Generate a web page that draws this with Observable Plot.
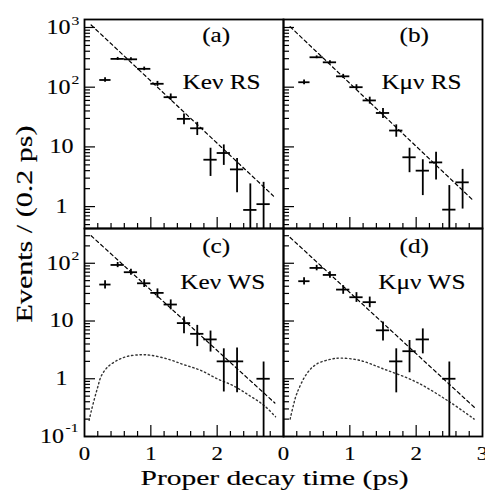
<!DOCTYPE html>
<html><head><meta charset="utf-8">
<script src="https://cdn.jsdelivr.net/npm/d3@7"></script>
<script src="https://cdn.jsdelivr.net/npm/@observablehq/plot@0.6"></script>
<style>
body{margin:0;background:#fff;}
#chart{position:relative;width:485px;height:493px;overflow:hidden;}
#chart svg{position:absolute;left:0;top:0;}
#chart svg, #chart svg text{font-family:"Liberation Serif","Times New Roman",Times,serif !important;}
</style></head><body><div id="chart"></div>
<script>
// ---- data ----
const xTitle = "Proper decay time (ps)";
const yTitle = "Events / (0.2 ps)";
const panelTags = ["(a)", "(b)", "(c)", "(d)"];
const panelNames = ["Ke\u03bd RS", "K\u03bc\u03bd RS", "Ke\u03bd WS", "K\u03bc\u03bd WS"];

// bin centres (ps); first bin starts at 0.23
const aT = [0.31,0.5,0.7,0.9,1.1,1.3,1.5,1.7,1.9,2.1,2.3,2.5,2.7];
const aV = [132,298,293,203,114,68,29.5,20.5,6.1,7.9,4.2,0.88,1.1];
const aLo = [121,281,276,189,103,60,23.5,15.5,3.2,4.9,1.7,0.3,0.3];
const aHi = [144,315,310,217,125,77,35.5,25.8,9.5,10.8,6.4,2.4,2.55];

const bT = [0.31,0.5,0.7,0.9,1.1,1.3,1.5,1.7,1.9,2.1,2.3,2.5,2.7];
const bV = [121,317,261,152,100,60,37,18.8,6.7,4.0,5.5,0.89,2.55];
const bLo = [110,300,245,140,90,52,30,14.5,3.7,1.53,2.8,0.3,0.91];
const bHi = [132,334,277,164,110,68,44,23.4,9.5,6.1,8.1,2.25,4.2];

const cT = [0.31,0.5,0.7,0.9,1.1,1.3,1.5,1.7,1.9,2.1,2.3,2.7];
const cV = [42.8,93.5,70,45,30.7,19.3,9.2,6.0,4.8,2.0,2.0,1.0];
const cLo = [36,84,62,38,25,15.6,6.0,3.6,2.9,0.59,0.57,0.05];
const cHi = [50,103,79,52,36,23.2,11.7,8.4,6.7,3.3,3.4,1.95];

const dT = [0.31,0.5,0.7,0.9,1.1,1.3,1.5,1.7,1.9,2.1,2.5];
const dV = [48.9,83,62.8,35,25.8,21.2,6.9,2.0,3.0,4.8,1.0];
const dLo = [42,74,55,29,21,17,4.5,0.57,1.27,2.7,0.05];
const dHi = [56,92,71,41,31,26,9.6,3.3,4.6,7.3,1.95];

// dashed fit lines
const aFitT = [0.1, 2.85], aFitV = [1100, 1.5];
const bFitT = [0.1, 2.85], bFitV = [1030, 1.3];
const cFitT = [0.1, 2.87], cFitV = [300, 0.38];
const dFitT = [0.1, 2.89], dFitV = [280, 0.31];

// dotted background curves (WS panels)
const cBkgT = [0.07,0.1,0.15,0.2,0.25,0.35,0.5,0.65,0.85,1.0,1.25,1.5,1.75,2.0,2.25,2.5,2.7,2.88];
const cBkgV = [0.19,0.27,0.45,0.72,1.1,1.6,2.1,2.45,2.6,2.55,2.2,1.75,1.4,1.0,0.75,0.5,0.35,0.22];
const dBkgT = [0.1,0.15,0.2,0.35,0.5,0.7,0.85,1.15,1.5,2.0,2.5,2.875];
const dBkgV = [0.2,0.35,0.55,1.22,1.8,2.16,2.28,2.08,1.49,0.88,0.4,0.2];

// axis ticks / labels
const xMinorTicks = [0.2,0.4,0.6,0.8,1.2,1.4,1.6,1.8,2.2,2.4,2.6,2.8];
const xMajorTicks = [1,2];
const xLabelsLeft = [0,1,2];
const xLabelsRight = [0,1,2,3];
const yTopMajor = [1,10,100,1000];
const yBotMajor = [0.1,1,10,100];
const yTopLabels = [{v:1000,base:"10",exp:"3"},{v:100,base:"10",exp:"2"},{v:10,base:"10",exp:""},{v:1,base:"1",exp:""}];
const yBotLabels = [{v:100,base:"10",exp:"2"},{v:10,base:"10",exp:""},{v:1,base:"1",exp:""},{v:0.1,base:"10",exp:"-1"}];
const topDomain = [0.43, 1360];
const botDomain = [0.1, 400];

// ---- build ----
const W = 485, H = 493;
const FONT = "Liberation Serif";
function pts(T, V, Lo, Hi) {
  return T.map((t, i) => ({t, v: V[i], lo: Lo[i], hi: Hi[i], t0: i === 0 ? 0.23 : t - 0.1, t1: i === 0 ? 0.4 : t + 0.1}));
}
function line(T, V) { return T.map((t, i) => ({t, v: V[i]})); }
function minors(domain) {
  const out = [];
  for (const dec of [0.1, 1, 10, 100, 1000]) for (let m = 2; m <= 9; m++) {
    const v = m * dec;
    if (v > domain[0] * 1.001 && v < domain[1] * 0.99) out.push(v);
  }
  return out;
}

function panel(o) {
  const innerW = W - o.left - o.right, innerH = H - o.top - o.bottom;
  const txt = {fill: "#000", fontFamily: FONT, stroke: "#000", strokeWidth: 0.15};
  const marks = [
    Plot.ruleX(xMinorTicks, {x: d => d, insetTop: innerH - 5, stroke: "#000", strokeWidth: 1.2}),
    Plot.ruleX(xMajorTicks, {x: d => d, insetTop: innerH - 11, stroke: "#000", strokeWidth: 1.2}),
    Plot.ruleY(minors(o.domain), {y: d => d, insetRight: innerW - 6, stroke: "#000", strokeWidth: 1.2}),
    Plot.ruleY(o.major, {y: d => d, insetRight: innerW - 11, stroke: "#000", strokeWidth: 1.2})
  ];
  if (o.bkg) marks.push(Plot.line(o.bkg, {x: "t", y: "v", curve: "catmull-rom", stroke: "#333", strokeWidth: 1.4, strokeDasharray: "1.4,2.8", clip: true}));
  marks.push(
    Plot.line(o.fit, {x: "t", y: "v", stroke: "#000", strokeWidth: 1.2, strokeDasharray: "3.5,3", clip: true}),
    Plot.ruleX(o.pts, {x: "t", y1: "lo", y2: "hi", stroke: "#000", strokeWidth: 1.8, clip: true}),
    Plot.ruleY(o.pts, {y: "v", x1: "t0", x2: "t1", stroke: "#000", strokeWidth: 1.8, clip: true}),
    Plot.frame({stroke: "#000", strokeWidth: 1.8}),
    Plot.text([o.tag], {...txt, frameAnchor: "top-left", dx: o.tagDx, dy: o.tagDy, textAnchor: "middle", lineAnchor: "middle", fontSize: 21}),
    Plot.text([o.name], {...txt, frameAnchor: "top-left", dx: o.nameDx, dy: o.nameDy, textAnchor: "middle", lineAnchor: "bottom", fontSize: 21})
  );
  if (o.yLabels) {
    const plain = o.yLabels.filter(d => !d.exp), sup = o.yLabels.filter(d => d.exp);
    marks.push(Plot.text(plain, {...txt, y: "v", text: "base", frameAnchor: "left", dx: -23, textAnchor: "middle", lineAnchor: "middle", fontSize: 20}));
    for (const d of sup) {
      const long = d.exp.length > 1;
      marks.push(
        Plot.text([d], {...txt, y: "v", text: "base", frameAnchor: "left", dx: long ? -20.5 : -14, textAnchor: "end", lineAnchor: "middle", fontSize: 20}),
        Plot.text([d], {...txt, y: "v", text: "exp", frameAnchor: "left", dx: long ? -19 : -13, dy: long ? -9 : -7, textAnchor: "start", lineAnchor: "middle", fontSize: 13, strokeWidth: 0.1})
      );
    }
  }
  if (o.xLabels) {
    marks.push(Plot.text(o.xLabels, {...txt, x: d => d, text: d => String(d), frameAnchor: "bottom", dy: 17.5, textAnchor: "middle", lineAnchor: "middle", fontSize: 19}));
  }
  if (o.titles) {
    marks.push(
      Plot.text([yTitle], {...txt, frameAnchor: "left", dx: -53, dy: -108.5, rotate: -90, textAnchor: "middle", lineAnchor: "bottom", fontSize: 23}),
      Plot.text([xTitle], {...txt, frameAnchor: "bottom", dx: 90.5, dy: 48, textAnchor: "middle", lineAnchor: "bottom", fontSize: 22})
    );
  }
  return Plot.plot({
    width: W, height: H,
    marginLeft: o.left, marginRight: o.right, marginTop: o.top, marginBottom: o.bottom,
    style: {background: "transparent", overflow: "visible"},
    x: {domain: [0, 3], axis: null},
    y: {type: "log", domain: o.domain, axis: null},
    marks
  });
}

const chart = document.getElementById("chart");
const configs = [
  {left: 84, right: 202, top: 19, bottom: 265, domain: topDomain, major: yTopMajor, pts: pts(aT, aV, aLo, aHi), fit: line(aFitT, aFitV),
   tag: panelTags[0], name: panelNames[0], tagDx: 131.7, tagDy: 16, nameDx: 137, nameDy: 69.3, yLabels: yTopLabels},
  {left: 283, right: 3, top: 19, bottom: 265, domain: topDomain, major: yTopMajor, pts: pts(bT, bV, bLo, bHi), fit: line(bFitT, bFitV),
   tag: panelTags[1], name: panelNames[1], tagDx: 130.7, tagDy: 16, nameDx: 138, nameDy: 69.3},
  {left: 84, right: 202, top: 228, bottom: 57, domain: botDomain, major: yBotMajor, pts: pts(cT, cV, cLo, cHi), fit: line(cFitT, cFitV), bkg: line(cBkgT, cBkgV),
   tag: panelTags[2], name: panelNames[2], tagDx: 131.7, tagDy: 18, nameDx: 138.3, nameDy: 60.7, yLabels: yBotLabels, xLabels: xLabelsLeft, titles: true},
  {left: 283, right: 3, top: 228, bottom: 57, domain: botDomain, major: yBotMajor, pts: pts(dT, dV, dLo, dHi), fit: line(dFitT, dFitV), bkg: line(dBkgT, dBkgV),
   tag: panelTags[3], name: panelNames[3], tagDx: 130.7, tagDy: 18, nameDx: 138.3, nameDy: 60.7, xLabels: xLabelsRight}
];
for (const c of configs) chart.appendChild(panel(c));

// the reference typesetting is horizontally stretched
chart.querySelectorAll("text").forEach(t => {
  const L = t.getComputedTextLength();
  if (!L) return;
  const s = t.textContent;
  const want = s === xTitle ? 268 : s === yTitle ? 197 : L * 1.2;
  t.setAttribute("textLength", want.toFixed(1));
  t.setAttribute("lengthAdjust", "spacingAndGlyphs");
});
</script></body></html>
